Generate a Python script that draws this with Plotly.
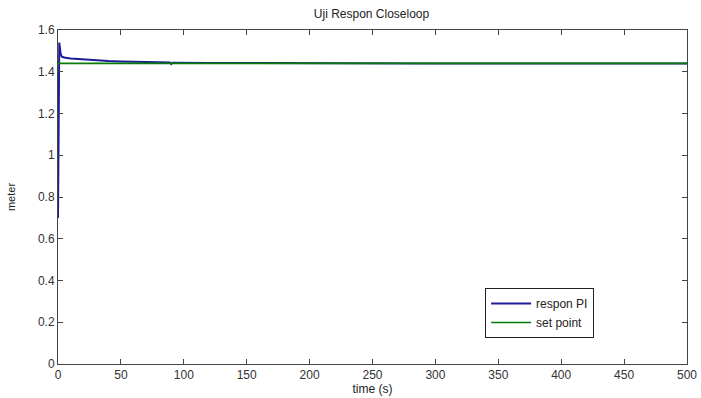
import plotly.graph_objects as go

# Closed-loop response of the PI controller versus the set point
time_s = [0, 0.3, 0.7, 1.0, 1.4, 2.0, 3.0, 5.0, 10, 20, 30, 40, 50, 70, 89, 90, 91, 120, 160, 200, 300, 400, 500]
respon_pi = [0.70, 1.20, 1.50, 1.54, 1.52, 1.49, 1.472, 1.468, 1.463, 1.458, 1.454, 1.451, 1.449, 1.446, 1.444, 1.437, 1.443, 1.442, 1.441, 1.440, 1.440, 1.440, 1.440]
sp_time = [0, 500]
set_point = [1.44, 1.44]

x_ticks = [0, 50, 100, 150, 200, 250, 300, 350, 400, 450, 500]
y_ticks = [0, 0.2, 0.4, 0.6, 0.8, 1.0, 1.2, 1.4, 1.6]
y_tick_text = ["0", "0.2", "0.4", "0.6", "0.8", "1", "1.2", "1.4", "1.6"]

fig = go.Figure()
fig.add_trace(go.Scatter(x=time_s, y=respon_pi, mode="lines", name="respon PI",
                         line=dict(color="#1c1c96", width=2)))
fig.add_trace(go.Scatter(x=sp_time, y=set_point, mode="lines", name="set point",
                         line=dict(color="#0b7a0b", width=1.6)))

axis_common = dict(showline=True, linecolor="#444", linewidth=1, mirror="ticks",
                   ticks="inside", ticklen=5, tickcolor="#444", showgrid=False,
                   zeroline=False, automargin=False,
                   tickfont=dict(family="Liberation Sans, Arial", size=12, color="#333"))

fig.update_layout(
    width=701, height=398,
    margin=dict(l=58, r=14, t=30, b=34),
    paper_bgcolor="white", plot_bgcolor="white",
    title=dict(text="Uji Respon Closeloop", x=0.53, xanchor="center", y=0.975, yanchor="top",
               font=dict(family="Liberation Sans, Arial", size=12, color="#222")),
    xaxis=dict(range=[0, 500], tickvals=x_ticks, **axis_common,
               title=dict(text="time (s)", standoff=2,
                          font=dict(family="Liberation Sans, Arial", size=12, color="#222"))),
    yaxis=dict(range=[0, 1.6], tickvals=y_ticks, ticktext=y_tick_text, **axis_common,
               title=dict(text="meter", standoff=20,
                          font=dict(family="Liberation Sans, Arial", size=11, color="#222"))),
    legend=dict(x=0.679, y=0.2275, xanchor="left", yanchor="top",
                bgcolor="white", bordercolor="#222", borderwidth=1,
                font=dict(family="Liberation Sans, Arial", size=12, color="#222"),
                tracegroupgap=0, itemwidth=40),
    showlegend=True,
)

fig.write_html("out.html")
